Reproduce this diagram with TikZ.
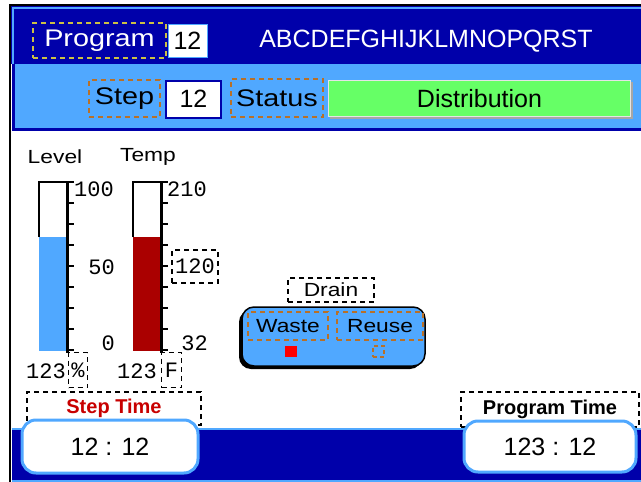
\documentclass[tikz,border=0pt]{standalone}
\usepackage{fontspec}
\setmainfont{Liberation Sans}
\newfontfamily\widefont[FakeStretch=1.2]{Liberation Sans}
\newfontfamily\monofont{Liberation Mono}
\newcommand\myfs[1]{\fontsize{#1}{#1}\selectfont}
\definecolor{hmiDark}{RGB}{0,0,170}
\definecolor{hmiLight}{RGB}{80,168,255}
\definecolor{hmiGreen}{RGB}{102,255,102}
\definecolor{hmiRed}{RGB}{170,0,0}
\definecolor{hmiOrange}{RGB}{184,112,40}
\definecolor{hmiYellow}{RGB}{204,192,68}
\definecolor{hmiText}{RGB}{200,0,0}
\begin{document}
\begin{tikzpicture}[x=1pt,y=-1pt,
  bx/.style={rectangle, inner sep=0pt, outer sep=0pt},
  ydash/.style={bx, draw=hmiYellow, line width=1.6pt, dash pattern=on 5pt off 4pt},
  odash/.style={bx, draw=hmiOrange, line width=1.6pt, dash pattern=on 5pt off 4pt},
  kdash/.style={bx, draw=black, line width=1.4pt, dash pattern=on 5pt off 4pt},
  bigtxt/.style={font=\myfs{25}},
  widetxt/.style={font=\widefont\myfs{24}},
  smalltxt/.style={font=\widefont\myfs{19}},
  monotxt/.style={font=\monofont\myfs{22}, inner sep=0pt},
  timebox/.style={bx, fill=white, draw=hmiLight, line width=3pt, rounded corners=14pt, font=\myfs{25}},
  tick/.style={line width=2pt},
  scaleline/.style={line width=3pt}
]
\useasboundingbox (0,0) rectangle (641,482);
\fill[white] (0,0) rectangle (641,482);

% ---------- header ----------
\fill[hmiDark] (11,6) rectangle (641,64);
\draw[hmiLight, line width=2pt] (13,64) -- (13,8) -- (641,8);
\fill[hmiLight] (12,64) rectangle (641,130);
\draw[hmiDark, line width=3pt] (13.5,64) -- (13.5,129.5) -- (641,129.5);
\draw[black, line width=2.5pt] (10,482) -- (10,5) -- (641,5);

\node[ydash, minimum width=133pt, minimum height=35pt, text=white, widetxt] (prog) at (99.5,40.5) {Program};
\node[bx, fill=white, draw=hmiLight, line width=1pt, minimum width=39pt, minimum height=33pt, bigtxt] (prognum) at (187.5,40.5) {12};
\node[text=white, bigtxt, inner sep=0pt] (progname) at (426,41) {ABCDEFGHIJKLMNOPQRST};

\node[odash, minimum width=71pt, minimum height=37pt, widetxt] (step) at (124.5,98.5) {Step};
\node[bx, fill=white, draw=hmiDark, line width=2pt, minimum width=55pt, minimum height=37pt, bigtxt] (stepnum) at (193.5,99) {12};
\node[odash, minimum width=92pt, minimum height=38pt, widetxt] (status) at (277,98) {Status};
\fill[gray!70] (330,82) rectangle (633,119);
\node[bx, fill=hmiGreen, draw=gray!20, line width=1pt, minimum width=302pt, minimum height=36pt, bigtxt] (statusval) at (479.5,98.5) {Distribution};

% ---------- level gauge ----------
\node[smalltxt, inner sep=0pt] (levellbl) at (55,157) {Level};
\node[smalltxt, inner sep=0pt] (templbl) at (148,157) {Temp};

\fill[hmiLight] (39,237) rectangle (67,351);
\draw[line width=2pt] (39,237) -- (39,182) -- (67,182);
\draw[scaleline] (67,181) -- (67,353);
\foreach \t in {182,203,224,245,266,287,308,329,350} \draw[tick] (67,\t) -- (74,\t);

\fill[hmiRed] (133,237) rectangle (161,351);
\draw[line width=2pt] (133,237) -- (133,182) -- (161,182);
\draw[scaleline] (161,181) -- (161,353);
\foreach \t in {182,203,224,245,266,287,308,329,350} \draw[tick] (161,\t) -- (168,\t);

\node[monotxt, anchor=west] (l100) at (74,189) {100};
\node[monotxt, anchor=east] (l50) at (115,267) {50};
\node[monotxt, anchor=east] (l0) at (115,343) {0};
\node[monotxt, anchor=west] (t210) at (167,189) {210};
\node[kdash, minimum width=46pt, minimum height=33pt, font=\monofont\myfs{22}] (t120) at (195,266.5) {120};
\node[monotxt, anchor=east] (t32) at (208,343) {32};

\node[monotxt, anchor=west] (levelval) at (26,371) {123};
\node[kdash, minimum width=19pt, minimum height=35pt, font=\monofont\myfs{22}] (levelunit) at (78,370) {\%};
\node[monotxt, anchor=west] (tempval) at (117,371) {123};
\node[kdash, minimum width=20pt, minimum height=35pt, font=\monofont\myfs{22}] (tempunit) at (171.5,370) {F};

% ---------- drain ----------
\node[kdash, minimum width=86pt, minimum height=24pt, smalltxt] (drain) at (331,290) {Drain};
\fill[black, rounded corners=12pt] (239,310) rectangle (422,369);
\draw[fill=hmiLight, draw=black, line width=1.5pt, rounded corners=12pt] (242,307) rectangle (425,366);
\node[odash, minimum width=80pt, minimum height=28pt, smalltxt] (waste) at (288,326) {Waste};
\node[odash, minimum width=86pt, minimum height=28pt, smalltxt] (reuse) at (380,326) {Reuse};
\node[bx, fill=red, minimum width=12pt, minimum height=11pt] (wasteled) at (291,351.5) {};
\node[bx, draw=hmiOrange, line width=1.6pt, dash pattern=on 4pt off 3pt, minimum width=11pt, minimum height=11pt] (reuseled) at (378.5,351.5) {};

% ---------- bottom ----------
\node[kdash, minimum width=174pt, minimum height=33pt, font=\bfseries\myfs{20}, text=hmiText] (steptime) at (114,408.5) {Step Time};
\node[kdash, minimum width=178pt, minimum height=35pt, font=\bfseries\myfs{20}] (progtime) at (550,409.5) {Program Time};
\fill[hmiDark] (11.5,428) rectangle (641,480);
\draw[hmiLight, line width=2pt] (11.5,429) -- (641,429);
\draw[hmiLight, line width=2pt] (11.5,481) -- (641,481);
\node[timebox, minimum width=176pt, minimum height=53pt] (steptimeval) at (110,446.5) {12 : 12};
\node[timebox, minimum width=172pt, minimum height=51pt] (progtimeval) at (550,446.5) {123 : 12};
\end{tikzpicture}
\end{document}
